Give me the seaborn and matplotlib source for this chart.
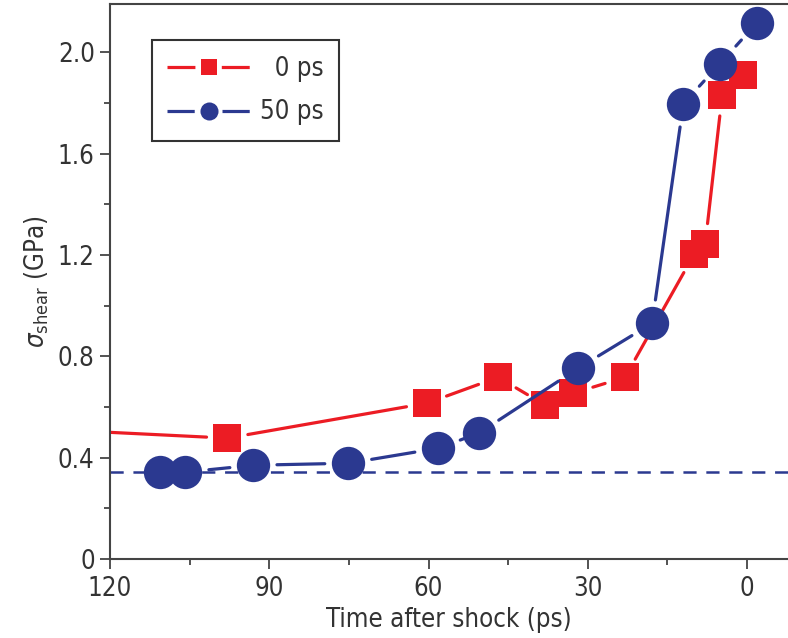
import matplotlib
matplotlib.use("Agg")
import matplotlib.pyplot as plt
from matplotlib.lines import Line2D
from matplotlib.ticker import MultipleLocator
import seaborn as sns
import pandas as pd

# Shear stress versus time after shock for two delays
time_0ps = [125.0, 97.9, 60.3, 46.9, 38.0, 32.8, 23.0, 10.0, 7.9, 4.7, 0.8]
stress_0ps = [0.505, 0.477, 0.615, 0.717, 0.607, 0.654, 0.717, 1.202, 1.242, 1.83, 1.91]

time_50ps = [110.5, 105.8, 93.0, 75.1, 58.2, 50.5, 31.8, 17.9, 12.0, 5.1, -1.9]
stress_50ps = [0.343, 0.343, 0.37, 0.378, 0.437, 0.497, 0.753, 0.93, 1.797, 1.955, 2.117]

baseline = 0.343

x_ticks = [120, 90, 60, 30, 0]
x_tick_labels = ["120", "90", "60", "30", "0"]
y_ticks = [0, 0.4, 0.8, 1.2, 1.6, 2.0]
y_tick_labels = ["0", "0.4", "0.8", "1.2", "1.6", "2.0"]

# figure space keeps the two legend entries right-aligned
series_labels = ["\u20070 ps", "50 ps"]

RED = "#EC1C24"
NAVY = "#2B3990"
LW = 2.3
GAP = 5.0          # white gap between a line and its markers (pt)
SQ_SIZE = 20       # square marker size (pt)
CI_SIZE = 24       # circle marker size (pt)

sns.set_theme(style="ticks")
plt.rcParams["font.family"] = ["DejaVu Sans"]
plt.rcParams["font.stretch"] = "condensed"
plt.rcParams["mathtext.fontset"] = "dejavusans"
plt.rcParams["lines.scale_dashes"] = False

fig = plt.figure(figsize=(7.88, 6.38), dpi=100)
ax = fig.add_axes([0.1396, 0.1238, 0.8604, 0.8699])
ax.set_xlim(120, -7.7)
ax.set_ylim(0, 2.19)

df0 = pd.DataFrame({"t": time_0ps, "s": stress_0ps})
df50 = pd.DataFrame({"t": time_50ps, "s": stress_50ps})


def connect(df, color, shrink, z):
    """Join consecutive points with segments that stop short of the markers."""
    pts = list(zip(df["t"], df["s"]))
    for p0, p1 in zip(pts[:-1], pts[1:]):
        a = ax.annotate("", xy=p1, xytext=p0, xycoords="data",
                        textcoords="data", annotation_clip=False,
                        arrowprops=dict(arrowstyle="-", color=color, lw=LW,
                                        shrinkA=shrink, shrinkB=shrink),
                        zorder=z)
        a.arrow_patch.set_clip_box(ax.bbox)
        a.arrow_patch.set_clip_on(True)


ax.axhline(baseline, color=NAVY, lw=1.8, ls=(0, (9.5, 7)), zorder=1)

connect(df0, RED, SQ_SIZE / 2 + GAP, 1.5)
sns.scatterplot(data=df0, x="t", y="s", ax=ax, color=RED, marker="s",
                s=SQ_SIZE ** 2, linewidth=0, zorder=2)
connect(df50, NAVY, CI_SIZE / 2 + GAP, 2.5)
sns.scatterplot(data=df50, x="t", y="s", ax=ax, color=NAVY, marker="o",
                s=CI_SIZE ** 2, linewidth=0, zorder=3)

ax.set_xlim(120, -7.7)
ax.set_ylim(0, 2.19)

ax.set_xticks(x_ticks)
ax.set_xticklabels(x_tick_labels)
ax.set_yticks(y_ticks)
ax.set_yticklabels(y_tick_labels)
ax.xaxis.set_minor_locator(MultipleLocator(15))
ax.yaxis.set_minor_locator(MultipleLocator(0.2))

ax.tick_params(axis="both", which="major", direction="out", length=7,
               width=1.3, color="#444444", labelsize=18.5, labelcolor="#333333",
               pad=4)
ax.tick_params(axis="both", which="minor", direction="out", length=4,
               width=1.3, color="#444444")
ax.tick_params(axis="x", which="major", pad=5)

for side in ["left", "bottom", "top"]:
    ax.spines[side].set_color("#444444")
    ax.spines[side].set_linewidth(1.5)
ax.spines["right"].set_visible(False)

ax.set_xlabel("Time after shock (ps)", fontsize=18.5, color="#333333", labelpad=4)
ax.set_ylabel(r"$\sigma_{\mathrm{shear}}$ (GPa)", fontsize=18.5, color="#333333",
              labelpad=5)

# legend handles: line, gap, marker, gap, line
LEG_FS = 18.5
LEG_HL = 3.2
LEG_GAP = 3.5
seg_len = LEG_HL * LEG_FS


def legend_handle(color, marker, msize):
    on = (seg_len - msize - 2 * LEG_GAP) / 2
    return Line2D([], [], color=color, lw=LW, marker=marker, markersize=msize,
                  markeredgewidth=0, ls=(0, (on, msize + 2 * LEG_GAP, on, 200)))


handles = [legend_handle(RED, "s", 12), legend_handle(NAVY, "o", 13)]
leg = ax.legend(handles, series_labels, loc="upper left",
                bbox_to_anchor=(0.062, 0.935), fontsize=LEG_FS, frameon=True,
                fancybox=False, edgecolor="#333333", framealpha=1,
                handlelength=LEG_HL, handletextpad=0.4, borderpad=0.6,
                labelspacing=0.7, borderaxespad=0)
leg.get_frame().set_linewidth(1.5)
for txt in leg.get_texts():
    txt.set_color("#333333")

fig.savefig("out.png", dpi=100)
